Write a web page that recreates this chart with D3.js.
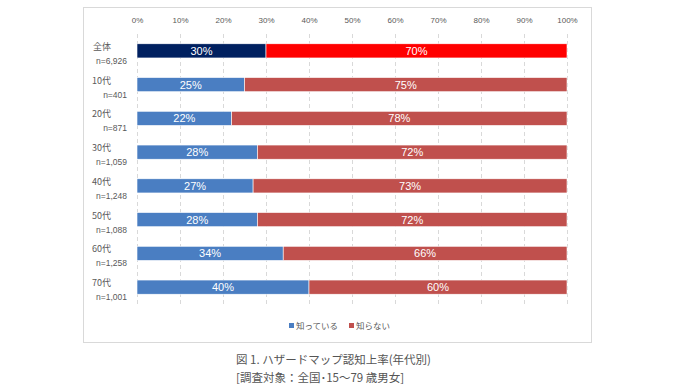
<!DOCTYPE html>
<html>
<head>
<meta charset="utf-8">
<script src="https://cdn.jsdelivr.net/npm/d3@7"></script>
<style>
  body { margin: 0; background: #fff; }
  svg { font-family: "Noto Sans CJK JP", "Noto Sans", sans-serif; }
</style>
</head>
<body>
<svg width="680" height="389"></svg>
<script>
// data
const groups = ["全体", "10代", "20代", "30代", "40代", "50代", "60代", "70代"];
const sampleSizes = ["n=6,926", "n=401", "n=871", "n=1,059", "n=1,248", "n=1,088", "n=1,258", "n=1,001"];
const known = [30, 25, 22, 28, 27, 28, 34, 40];
const unknown = [70, 75, 78, 72, 73, 72, 66, 60];
const seriesNames = ["知っている", "知らない"];
const ticks = [0, 10, 20, 30, 40, 50, 60, 70, 80, 90, 100];

const svg = d3.select("svg");

// chart frame
svg.append("rect")
    .attr("x", 83.5).attr("y", 7.5)
    .attr("width", 508).attr("height", 335)
    .attr("fill", "none")
    .attr("stroke", "#d9d9d9");

const x = d3.scaleLinear().domain([0, 100]).range([137, 567]);
const y = d3.scaleBand().domain(groups).range([34, 304]).paddingInner(0.58).paddingOuter(0.29);

// gridlines
svg.append("g")
    .selectAll("line")
    .data(ticks)
    .enter().append("line")
    .attr("x1", d => x(d) + 0.5).attr("x2", d => x(d) + 0.5)
    .attr("y1", 34).attr("y2", 304)
    .attr("stroke", "#d9d9d9")
    .attr("stroke-dasharray", "4,3");

// top axis
const axis = svg.append("g")
    .attr("transform", "translate(0,26)")
    .call(d3.axisTop(x).tickValues(ticks).tickFormat(d => d + "%").tickSize(0));
axis.select(".domain").remove();
axis.selectAll("text")
    .attr("fill", "#595959")
    .style("font-size", "8px")
    .style("font-family", "'Liberation Sans', sans-serif");

const rows = groups.map((g, i) => ({ g, n: sampleSizes[i], a: known[i], b: unknown[i], first: i === 0 }));

const row = svg.append("g")
    .selectAll("g")
    .data(rows)
    .enter().append("g");

row.append("rect")
    .attr("x", x(0))
    .attr("y", d => y(d.g))
    .attr("width", d => x(d.a) - x(0))
    .attr("height", y.bandwidth())
    .attr("fill", d => d.first ? "#002060" : "#4a7ec2")
    .attr("stroke", "#fff").attr("stroke-width", 0.6);

row.append("rect")
    .attr("x", d => x(d.a))
    .attr("y", d => y(d.g))
    .attr("width", d => x(d.a + d.b) - x(d.a))
    .attr("height", y.bandwidth())
    .attr("fill", d => d.first ? "#ff0000" : "#c0504d")
    .attr("stroke", "#fff").attr("stroke-width", 0.6);

row.append("text")
    .attr("x", d => (x(0) + x(d.a)) / 2)
    .attr("y", d => y(d.g) + y.bandwidth() / 2 + 4)
    .attr("text-anchor", "middle")
    .attr("fill", "#fff")
    .style("font-size", "11px")
    .style("font-family", "'Liberation Sans', sans-serif")
    .text(d => d.a + "%");

row.append("text")
    .attr("x", d => (x(d.a) + x(d.a + d.b)) / 2)
    .attr("y", d => y(d.g) + y.bandwidth() / 2 + 4)
    .attr("text-anchor", "middle")
    .attr("fill", "#fff")
    .style("font-size", "11px")
    .style("font-family", "'Liberation Sans', sans-serif")
    .text(d => d.b + "%");

// category labels
row.append("text")
    .attr("x", 111)
    .attr("y", d => y(d.g) + y.bandwidth() / 2 - 1)
    .attr("text-anchor", "end")
    .attr("fill", "#595959")
    .style("font-size", "9px")
    .text(d => d.g);

row.append("text")
    .attr("x", 127)
    .attr("y", d => y(d.g) + y.bandwidth() / 2 + 13)
    .attr("text-anchor", "end")
    .attr("fill", "#595959")
    .style("font-size", "8.5px")
    .style("font-family", "'Liberation Sans', sans-serif")
    .text(d => d.n);

// legend
const legend = svg.append("g")
    .selectAll("g")
    .data(seriesNames)
    .enter().append("g")
    .attr("transform", (d, i) => "translate(" + (289 + i * 60) + ",326)");
legend.append("rect")
    .attr("x", 0).attr("y", -3)
    .attr("width", 5).attr("height", 5)
    .attr("fill", (d, i) => i === 0 ? "#4a7ec2" : "#c0504d");
legend.append("text")
    .attr("x", 7).attr("y", 2.5)
    .attr("fill", "#595959")
    .style("font-size", "8.5px")
    .text(d => d);

// caption
svg.append("text")
    .attr("x", 236).attr("y", 364)
    .attr("fill", "#555")
    .style("font-size", "11.5px")
    .text("図 1. ハザードマップ認知上率(年代別)");
svg.append("text")
    .attr("x", 236).attr("y", 382)
    .attr("fill", "#555")
    .style("font-size", "11.5px")
    .text("[調査対象：全国･15～79 歳男女]");
</script>
</body>
</html>
